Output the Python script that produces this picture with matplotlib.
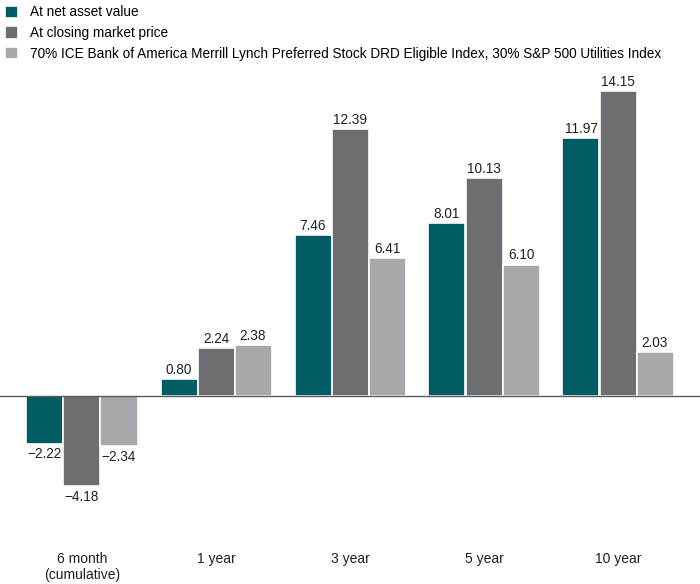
import numpy as np
import matplotlib.pyplot as plt

plt.rcParams['font.family'] = ['Liberation Sans', 'DejaVu Sans']

categories = ['6 month\n(cumulative)', '1 year', '3 year', '5 year', '10 year']
series_names = ['At net asset value',
                'At closing market price',
                '70% ICE Bank of America Merrill Lynch Preferred Stock DRD Eligible Index, 30% S&P 500 Utilities Index']
nav = [-2.22, 0.80, 7.46, 8.01, 11.97]
market = [-4.18, 2.24, 12.39, 10.13, 14.15]
index = [-2.34, 2.38, 6.41, 6.10, 2.03]
colors = ['#005c63', '#6d6e72', '#a6a8ab']

fig = plt.figure(figsize=(7, 5.84), dpi=100)
# pixel scale: 134 px per group, 21.55 px per percent, zero at y=396
ax = fig.add_axes([0, 39 / 584, 1, 545 / 584])

x = np.arange(len(categories))
w = 37 / 134
handles = []
for i, (vals, name, c) in enumerate(zip([nav, market, index], series_names, colors)):
    bars = ax.bar(x + (i - 1) * w, vals, width=w, color=c, edgecolor='white',
                  linewidth=1.2, label=name, zorder=2)
    handles.append(bars)
    for xi, v in zip(x + (i - 1) * w, vals):
        lbl = f'{v:.2f}'.replace('-', '\u2212')
        if v >= 0:
            ax.annotate(lbl, (xi, v), xytext=(0, 1.5), textcoords='offset points',
                        ha='center', va='bottom', fontsize=9.8, color='#231f20')
        else:
            ax.annotate(lbl, (xi, v), xytext=(0, -2.5), textcoords='offset points',
                        ha='center', va='top', fontsize=9.8, color='#231f20')

ax.axhline(0, color='#58595b', linewidth=1, zorder=3)
ax.set_xlim(-82 / 134, (700 - 82) / 134)
ax.set_ylim(-(545 - 396) / 21.55, 396 / 21.55)
ax.set_xticks(x)
ax.set_xticklabels(categories, fontsize=10, color='#231f20', linespacing=1.15)
ax.tick_params(axis='x', length=0, pad=5)
ax.set_yticks([])
for s in ax.spines.values():
    s.set_visible(False)

ax.legend(handles=handles, loc='upper left', bbox_to_anchor=(0.0, 1.0),
          bbox_transform=fig.transFigure, frameon=False, fontsize=9.8,
          handlelength=0.95, handleheight=1.0, handletextpad=0.85,
          labelspacing=0.5, borderaxespad=0.1, borderpad=0.3)

fig.savefig('out.png', dpi=100)
